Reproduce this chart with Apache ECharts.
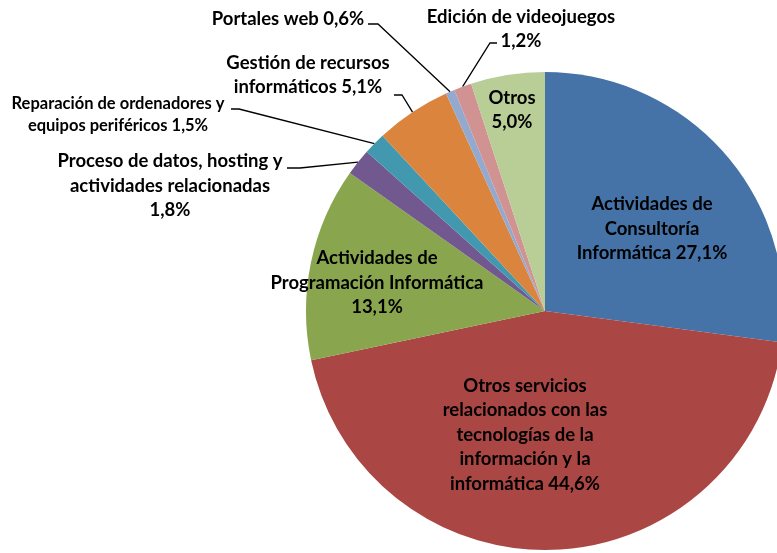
<!DOCTYPE html>
<html>
<head>
<meta charset="utf-8">
<script src="https://cdn.jsdelivr.net/npm/echarts@6/dist/echarts.min.js"></script>
<style>
html, body { margin: 0; padding: 0; background: #fff; }
#pie-sectors { width: 777px; height: 553px; }
</style>
</head>
<body>
<div id="pie-sectors"></div>
<script>
// sectors, clockwise from 12 o'clock
var sectors = [
    'Actividades de\nConsultoría\nInformática',
    'Otros servicios\nrelacionados con las\ntecnologías de la\ninformación y la\ninformática',
    'Actividades de\nProgramación Informática',
    'Proceso de datos, hosting y\nactividades relacionadas',
    'Reparación de ordenadores y\nequipos periféricos',
    'Gestión de recursos\ninformáticos',
    'Portales web',
    'Edición de videojuegos',
    'Otros'
];
var shares = [27.1, 44.6, 13.1, 1.8, 1.5, 5.1, 0.6, 1.2, 5.0];

var colors = ['#4572A7', '#AA4643', '#89A54E', '#71588F', '#4198AF',
              '#DB843D', '#93A9CF', '#D19392', '#B9CD96'];
// what goes between the name and the percentage
var breaks = [' ', ' ', '\n', '\n', ' ', ' ', ' ', '\n', '\n'];
var outside = [false, false, false, true, true, true, true, true, false];
// label centre x, y; for outside ones also leader elbow and end
var labelPos = [
    [652, 229],
    [525, 435],
    [377, 283],
    [170, 186, [300, 168], [287, 168]],
    [118, 115, [239, 109], [231, 109]],
    [308, 75, [402, 95], [394, 95]],
    [288, 19, [378, 24], [368, 24]],
    [521, 29, [490, 43], [497, 43]],
    [512, 110]
];

var chart = echarts.init(document.getElementById('pie-sectors'));

var data = sectors.map(function (name, i) {
    var item = { name: name, value: shares[i], itemStyle: { color: colors[i] } };
    if (outside[i]) {
        item.label = { position: 'outside' };
        item.labelLine = { show: true };
    }
    if (i === 4) {
        item.label.fontSize = 16.5;
        item.label.lineHeight = 22;
    }
    return item;
});

var option = {
    animation: false,
    series: [
        {
            type: 'pie',
            center: [545, 311],
            radius: 239,
            startAngle: 90,
            clockwise: true,
            avoidLabelOverlap: false,
            itemStyle: { borderWidth: 0 },
            label: {
                show: true,
                position: 'inside',
                color: '#000',
                fontFamily: 'Lato',
                fontWeight: 'bold',
                fontSize: 18.5,
                lineHeight: 24.5,
                align: 'center',
                formatter: function (p) {
                    return p.name + breaks[p.dataIndex] + p.value.toFixed(1).replace('.', ',') + '%';
                }
            },
            labelLine: {
                show: false,
                lineStyle: { color: '#000', width: 1.3 }
            },
            labelLayout: function (params) {
                var p = labelPos[params.dataIndex];
                var out = { x: p[0], y: p[1], align: 'center', verticalAlign: 'middle' };
                if (p[2] && params.labelLinePoints) {
                    out.labelLinePoints = [params.labelLinePoints[0], p[2], p[3]];
                }
                return out;
            },
            data: data
        }
    ]
};

chart.setOption(option);
</script>
</body>
</html>
